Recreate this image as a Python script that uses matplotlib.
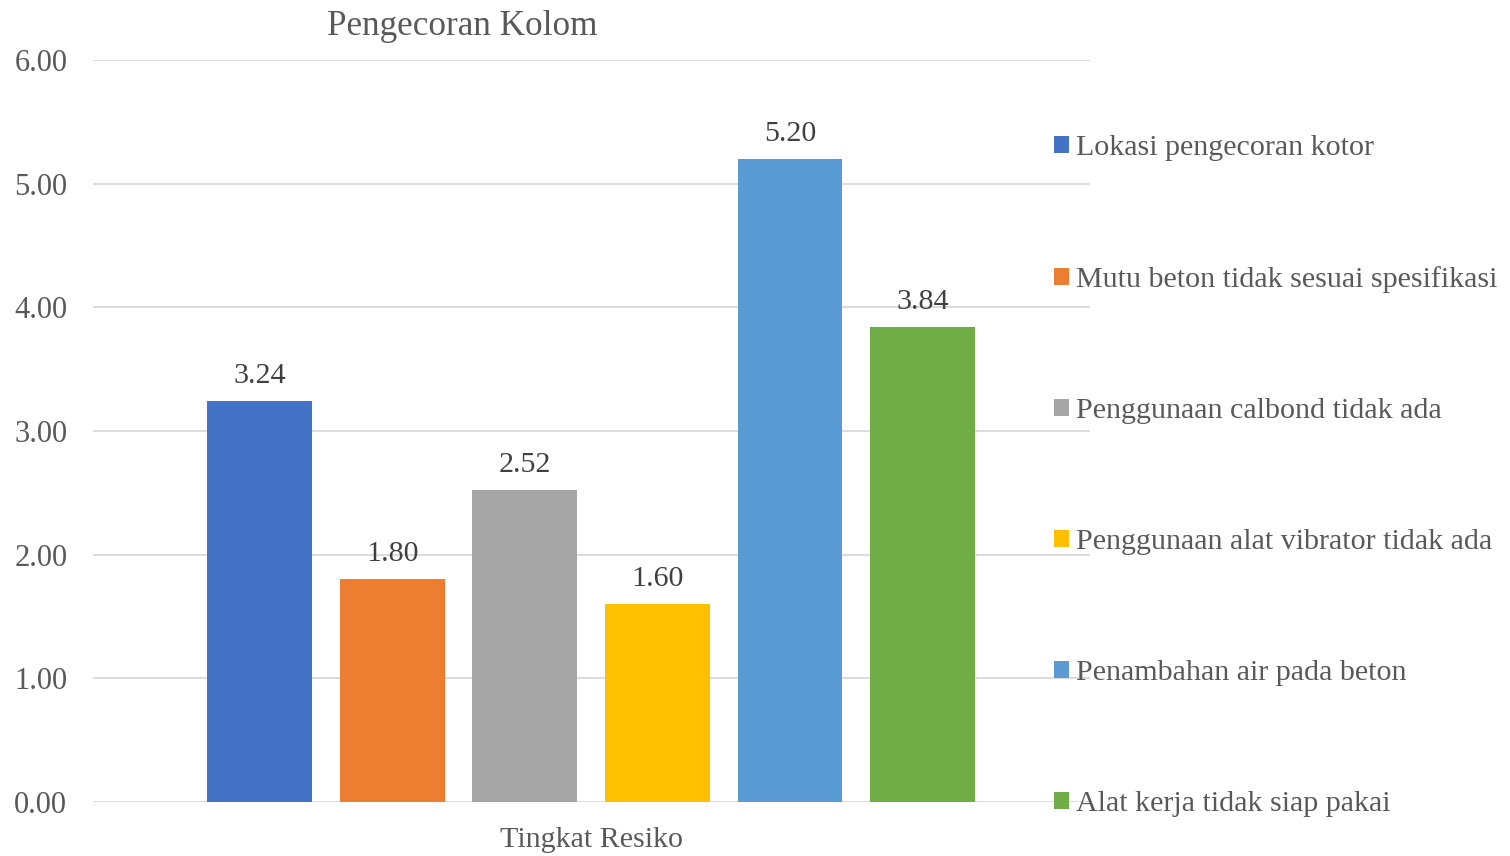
import numpy as np
import matplotlib
matplotlib.use('Agg')
from matplotlib import pyplot as plt
from matplotlib.patches import Patch

# data
categories = ['Lokasi pengecoran kotor', 'Mutu beton tidak sesuai spesifikasi',
              'Penggunaan calbond tidak ada', 'Penggunaan alat vibrator tidak ada',
              'Penambahan air pada beton', 'Alat kerja tidak siap pakai']
values = [3.24, 1.80, 2.52, 1.60, 5.20, 3.84]
colors = ['#4472C4', '#ED7D31', '#A5A5A5', '#FFC000', '#5B9BD5', '#70AD47']
yticks = [0, 1, 2, 3, 4, 5, 6]

plt.rcParams['font.family'] = ['Liberation Serif', 'DejaVu Serif']
fs = 21.6

fig = plt.figure(figsize=(15.1, 8.56), dpi=100)
ax = fig.add_axes([93 / 1510, 54 / 856, 997 / 1510, 742 / 856])

x = np.arange(len(values))
bars = ax.bar(x, values, width=0.79, color=colors, zorder=3)

for xi, v in zip(x, values):
    ax.annotate(f'{v:.2f}', (xi, v), xytext=(0, 18), textcoords='offset points',
                ha='center', va='center', fontsize=fs, color='#404040')

ax.set_ylim(0, 6)
ax.set_xlim(-1.256, 6.263)
ax.set_yticks(yticks)
ax.set_yticklabels([f'{t:.2f}' for t in yticks], fontsize=22, color='#595959')
ax.set_xticks([])
ax.tick_params(axis='y', length=0, pad=18.5)
ax.grid(axis='y', color='#D9D9D9', linewidth=1.3, zorder=0)
for s in ax.spines.values():
    s.set_visible(False)

fig.text(462 / 1510, 1 - 26.5 / 856, 'Pengecoran Kolom', ha='center', va='center',
         fontsize=25.3, color='#595959')
fig.text(591 / 1510, 1 - 840 / 856, 'Tingkat Resiko', ha='center', va='center',
         fontsize=fs, color='#595959')

handles = [Patch(facecolor=c, edgecolor='none') for c in colors]
leg = fig.legend(handles, categories, loc='upper left', bbox_to_anchor=(1054 / 1510, 1 - 135 / 856),
                 frameon=False, fontsize=fs, labelcolor='#595959', borderpad=0, borderaxespad=0,
                 handlelength=0.5, handleheight=0.5, handletextpad=0.23, labelspacing=3.5)

fig.savefig('out.png', dpi=100)
